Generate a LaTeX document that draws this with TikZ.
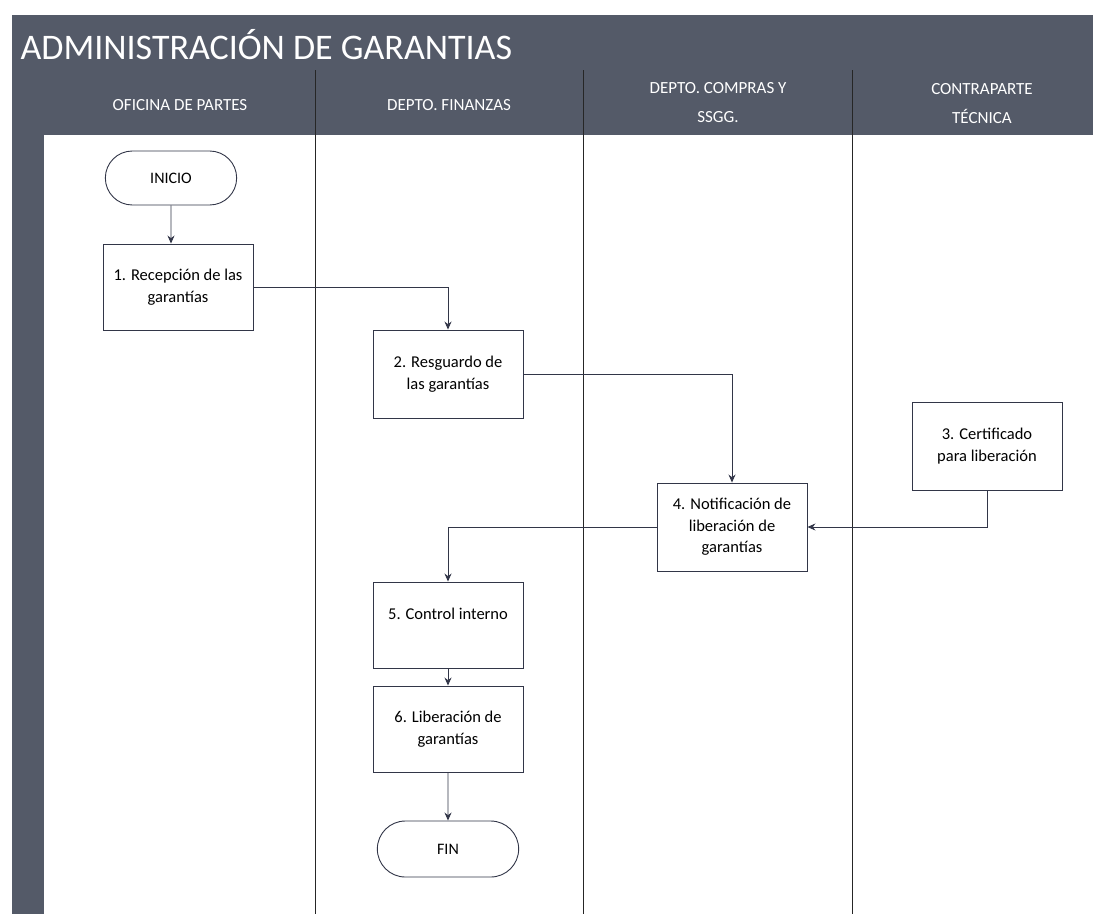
\documentclass[tikz,border=0pt]{standalone}
\usepackage{fontspec}
\setmainfont{Carlito}
\usetikzlibrary{arrows.meta,shapes.misc}
\definecolor{hdr}{RGB}{84,90,104}
\definecolor{ln}{RGB}{50,54,72}
\tikzset{
  proc/.style={draw=ln, line width=0.9pt, fill=white, minimum width=150pt, minimum height=86pt, align=center, font=\fontsize{16.5}{21.5}\selectfont, inner sep=2pt},
  term/.style={draw=ln, line width=0.9pt, fill=white, rounded rectangle, minimum width=148pt, minimum height=56pt, font=\fontsize{16}{18}\selectfont},
  conn/.style={draw=ln, line width=0.9pt, -{Stealth[length=8pt,width=7pt]}},
  lane/.style={draw=black!85, line width=1pt},
  lanelbl/.style={text=white, align=center, font=\fontsize{17}{29}\selectfont},
}
\begin{document}
\begin{tikzpicture}[x=1pt,y=-1pt]
\useasboundingbox (0,0) rectangle (1093,914);
\fill[white] (0,0) rectangle (1093,914);
\fill[hdr] (12,15) rectangle (1093,914);
\fill[white] (44,135) rectangle (1093,914);
\node[anchor=west, text=white, font=\fontsize{36}{38}\selectfont] (title) at (17,45) {ADMINISTRACIÓN DE GARANTIAS};
\node[lanelbl] (l1) at (180,105) {OFICINA DE PARTES};
\node[lanelbl] (l2) at (449,105) {DEPTO. FINANZAS};
\node[lanelbl] (l3) at (718,103) {DEPTO. COMPRAS Y\\SSGG.};
\node[lanelbl] (l4) at (982,104) {CONTRAPARTE\\TÉCNICA};
\draw[lane] (315,70) -- (315,914);
\draw[lane] (583,70) -- (583,914);
\draw[lane] (852,70) -- (852,914);

\node[term, minimum width=138pt, minimum height=54pt] (ini) at (171,178) {INICIO};
\node[proc] (n1) at (178,287) {1. Recepción de las\\garantías};
\node[proc, minimum height=88pt] (n2) at (448,374) {2. Resguardo de\\las garantías};
\node[proc, minimum height=88pt] (n3) at (987,446) {3. Certificado\\para liberación};
\node[proc, minimum height=88pt] (n4) at (732,527) {4. Notificación de\\liberación de\\garantías};
\node[proc] (n5) at (448,625) {5. Control interno\\\mbox{}};
\node[proc] (n6) at (448,729) {6. Liberación de\\garantías};
\node[term] (fin) at (448,849) {FIN};

\draw[conn] (ini) -- (ini |- n1.north);
\draw[conn] (n1.east) -| (n2.north);
\draw[conn] (n2.east) -| (n4.north);
\draw[conn] (n3.south) |- (n4.east);
\draw[conn] (n4.west) -| (n5.north);
\draw[conn] (n5) -- (n6);
\draw[conn] (n6) -- (fin);
\end{tikzpicture}
\end{document}
